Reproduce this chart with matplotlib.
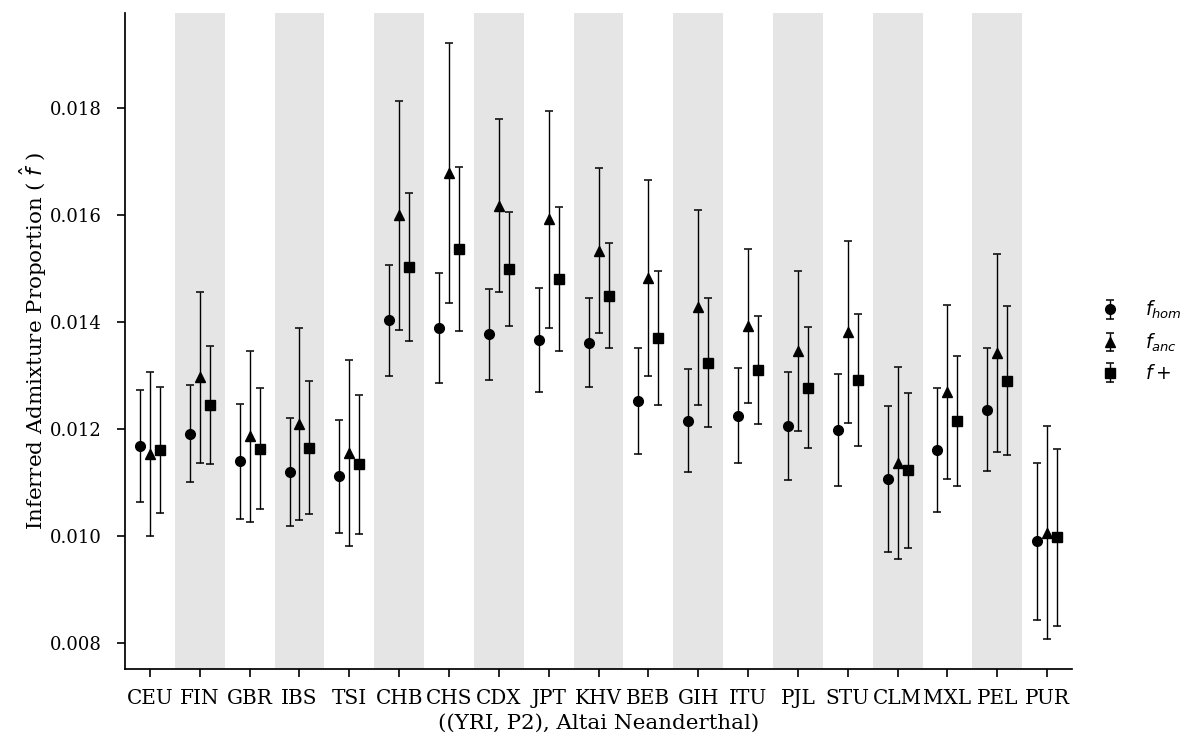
import numpy as np
import matplotlib
matplotlib.use("Agg")
import matplotlib.pyplot as plt

populations = ["CEU", "FIN", "GBR", "IBS", "TSI", "CHB", "CHS", "CDX", "JPT", "KHV",
               "BEB", "GIH", "ITU", "PJL", "STU", "CLM", "MXL", "PEL", "PUR"]

f_hom = [0.011682, 0.011912, 0.011398, 0.011200, 0.011116, 0.014034, 0.013893, 0.013770,
         0.013664, 0.013613, 0.012527, 0.012159, 0.012249, 0.012056, 0.011978, 0.011071,
         0.011613, 0.012361, 0.009901]
f_hom_err = [0.001040, 0.000907, 0.001075, 0.001013, 0.001060, 0.001037, 0.001028, 0.000854,
             0.000966, 0.000828, 0.000994, 0.000963, 0.000884, 0.001004, 0.001050, 0.001364,
             0.001159, 0.001146, 0.001471]

f_anc = [0.011533, 0.012968, 0.011864, 0.012093, 0.011551, 0.015994, 0.016785, 0.016174,
         0.015920, 0.015336, 0.014826, 0.014275, 0.013925, 0.013464, 0.013817, 0.011368,
         0.012692, 0.013421, 0.010065]
f_anc_err = [0.001533, 0.001598, 0.001594, 0.001794, 0.001744, 0.002136, 0.002430, 0.001620,
             0.002024, 0.001542, 0.001828, 0.001826, 0.001445, 0.001495, 0.001697, 0.001798,
             0.001620, 0.001845, 0.001996]

f_plus = [0.011607, 0.012454, 0.011636, 0.011654, 0.011340, 0.015032, 0.015368, 0.014996,
          0.014809, 0.014495, 0.013701, 0.013239, 0.013103, 0.012776, 0.012912, 0.011230,
          0.012155, 0.012907, 0.009978]
f_plus_err = [0.001175, 0.001103, 0.001136, 0.001237, 0.001295, 0.001380, 0.001529, 0.001071,
              0.001346, 0.000987, 0.001258, 0.001202, 0.001015, 0.001136, 0.001230, 0.001449,
              0.001215, 0.001393, 0.001654]

yticks = [0.008, 0.010, 0.012, 0.014, 0.016, 0.018]

plt.rcParams['font.family'] = 'DejaVu Serif'
plt.rcParams['mathtext.fontset'] = 'dejavusans'

fig = plt.figure(figsize=(11.83, 7.38), dpi=100)
ax = fig.add_axes([0.1057, 0.0935, 0.8005, 0.889])

x = np.arange(len(populations))
for i in range(len(populations)):
    if i % 2 == 1:
        ax.axvspan(i - 0.5, i + 0.5, color='#e5e5e5', lw=0, zorder=0)

common = dict(color='black', ecolor='black', elinewidth=1.0, capsize=3.2,
              capthick=1.1, linestyle='none', markersize=7, zorder=3)
ax.errorbar(x - 0.2, f_hom, yerr=f_hom_err, fmt='o', label=r'$f_{hom}$', **common)
ax.errorbar(x, f_anc, yerr=f_anc_err, fmt='^', label=r'$f_{anc}$', **common)
ax.errorbar(x + 0.2, f_plus, yerr=f_plus_err, fmt='s', label=r'$f+$',
            **{**common, 'markersize': 6.5})

ax.set_xlim(-0.5, 18.5)
ax.set_ylim(0.007514, 0.01978)
ax.set_xticks(x)
ax.set_xticklabels(populations)
ax.set_yticks(yticks)
ax.set_yticklabels([f"{v:.3f}" for v in yticks])
ax.tick_params(axis='x', labelsize=14.4, length=6, width=1.2, direction='out', pad=8.5)
ax.tick_params(axis='y', labelsize=13, length=6, width=1.2, direction='out', pad=11)
for s in ['top', 'right']:
    ax.spines[s].set_visible(False)
for s in ['left', 'bottom']:
    ax.spines[s].set_linewidth(1.25)

ax.set_xlabel('((YRI, P2), Altai Neanderthal)', fontsize=15.4)
ax.set_ylabel(r'Inferred Admixture Proportion ( $\hat{f}$ )', fontsize=15.4, labelpad=0.5)

ax.legend(loc='center left', bbox_to_anchor=(1.002, 0.5), frameon=False, fontsize=13.5,
          handletextpad=0.87, labelspacing=0.55)

fig.savefig('out.png', dpi=100)
